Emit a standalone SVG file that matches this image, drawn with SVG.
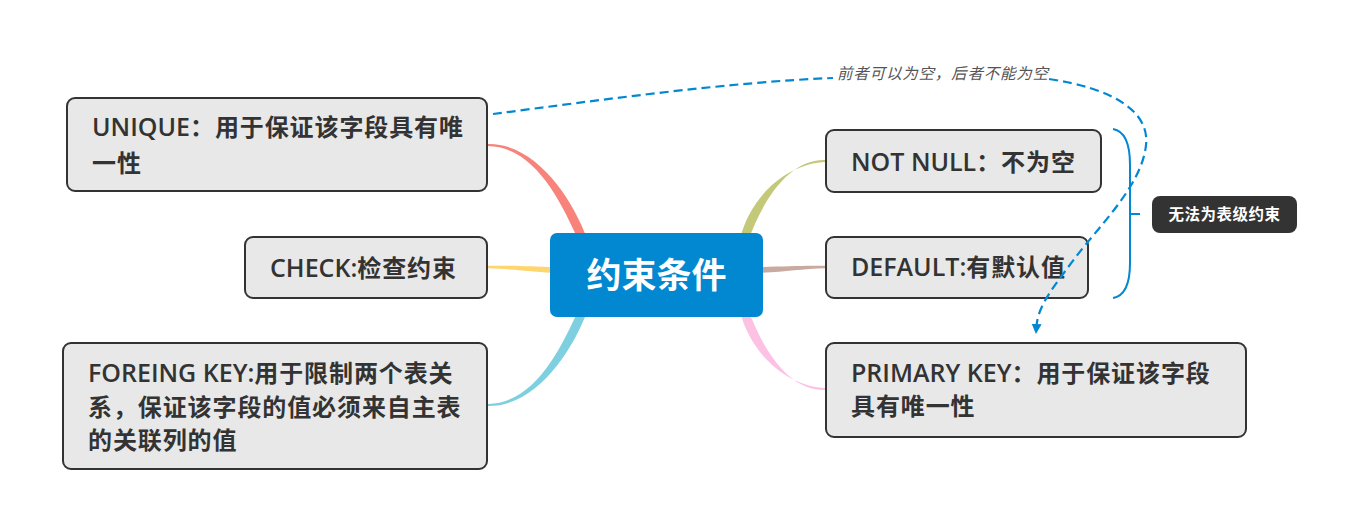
<svg xmlns="http://www.w3.org/2000/svg" width="1360" height="532" viewBox="0 0 1360 532">
<defs>
<style>
.node rect{fill:#e8e8e8;stroke:#333;stroke-width:2}
.t{font-family:"Open Sans","Noto Sans CJK SC",sans-serif;font-size:25px;font-weight:600;fill:#333}
.c{font-family:"Noto Sans CJK SC",sans-serif;font-size:24px;font-weight:bold;letter-spacing:0.9px}
.dash{fill:none;stroke:#0288d1;stroke-width:2.2;stroke-dasharray:9 5}
</style>
<marker id="arr" viewBox="0 0 10 10" refX="2" refY="5" markerWidth="10" markerHeight="10" markerUnits="userSpaceOnUse" orient="auto">
<path d="M0,0 L10,5 L0,10 Z" fill="#0288d1"/>
</marker>
</defs>
<rect width="1360" height="532" fill="#fff"/>
<g id="connectors">
<path d="M488,144 C535,143 572,197.5 587,238.5 L579,241.5 C561,201.5 535,147 488,146 Z" fill="#f7837a"/>
<path d="M488,265.8 C515,265.3 530,266.5 556,267 L556,273 C530,272 515,268.9 488,268.2 Z" fill="#ffd66e"/>
<path d="M488,406 C535,407 572,352.5 587,311.5 L579,308.5 C561,348.5 535,403 488,404 Z" fill="#7ecfe0"/>
<path d="M826,160 C790,158.5 764,197.5 748,241 L740,238.5 C752,192.5 790,163 826,162 Z" fill="#c4c879"/>
<path d="M826,265.8 C800,265.3 785,266.5 757,267 L757,273 C785,272 800,268.9 826,268.2 Z" fill="#c9aaa0"/>
<path d="M826,390 C790,391.5 764,352.5 748,309 L740,311.5 C752,357.5 790,387 826,388 Z" fill="#fcc1e3"/>
<path d="M1113,129 C1125,131 1130,145 1130,165 L1130,263 C1130,283 1125,296 1113,298 M1130,214 L1140,214" fill="none" stroke="#0288d1" stroke-width="2"/>
</g>
<g id="center">
<rect x="550" y="233" width="213" height="84" rx="7" fill="#0288d1"/>
<text x="656.5" y="288" text-anchor="middle" font-family="'Noto Sans CJK SC',sans-serif" font-weight="bold" font-size="35" fill="#fff">约束条件</text>
</g>
<g id="unique" class="node">
<rect x="67" y="98" width="420" height="93" rx="8"/>
<text class="t" x="92" y="136">UNIQUE<tspan class="c">：用于保证该字段具有唯</tspan></text>
<text class="t" x="92" y="172"><tspan class="c">一性</tspan></text>
</g>
<g id="check" class="node">
<rect x="245" y="237" width="242" height="61" rx="8"/>
<text class="t" x="270" y="277">CHECK:<tspan class="c">检查约束</tspan></text>
</g>
<g id="foreign" class="node">
<rect x="63" y="343" width="424" height="126" rx="8"/>
<text class="t" x="88" y="382">FOREING KEY:<tspan class="c">用于限制两个表关</tspan></text>
<text class="t" x="88" y="416"><tspan class="c">系，保证该字段的值必须来自主表</tspan></text>
<text class="t" x="88" y="449"><tspan class="c">的关联列的值</tspan></text>
</g>
<g id="notnull" class="node">
<rect x="826" y="130" width="275" height="62" rx="8"/>
<text class="t" x="851" y="171">NOT NULL<tspan class="c">：不为空</tspan></text>
</g>
<g id="default" class="node">
<rect x="826" y="237" width="262" height="61" rx="8"/>
<text class="t" x="851" y="276">DEFAULT:<tspan class="c">有默认值</tspan></text>
</g>
<g id="primary" class="node">
<rect x="826" y="343" width="420" height="94" rx="8"/>
<text class="t" x="851" y="382">PRIMARY KEY<tspan class="c">：用于保证该字段</tspan></text>
<text class="t" x="851" y="415"><tspan class="c">具有唯一性</tspan></text>
</g>
<g id="label">
<rect x="1152" y="196" width="145" height="37" rx="8" fill="#333"/>
<text x="1224.5" y="220" text-anchor="middle" font-family="'Noto Sans CJK SC',sans-serif" font-weight="bold" font-size="15.5" letter-spacing="0.5" fill="#fff">无法为表级约束</text>
</g>
<g id="relationship">
<path class="dash" d="M493,114 C600,100 730,82 833,78"/>
<path class="dash" d="M1049,79 C1110,88 1150,110 1146,145 C1142,185 1100,225 1075,258 C1055,285 1038,305 1036.5,326" marker-end="url(#arr)"/>
<text x="837" y="79" font-family="'Noto Sans CJK SC',sans-serif" font-style="italic" font-size="15.5" letter-spacing="0.8" fill="#555">前者可以为空，后者不能为空</text>
</g>
</svg>
